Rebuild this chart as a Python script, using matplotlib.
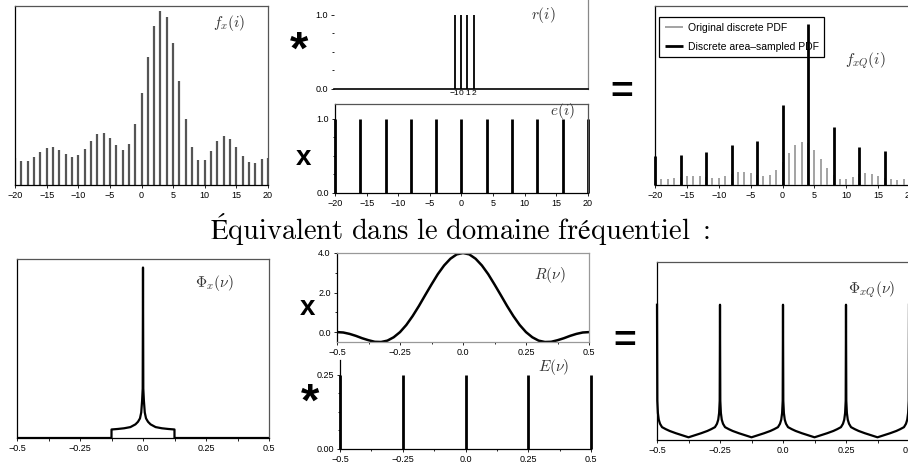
import matplotlib
matplotlib.use("Agg")
import matplotlib.pyplot as plt
from matplotlib.ticker import MultipleLocator

W, H = 908, 468

plt.rcParams['mathtext.fontset'] = 'cm'
plt.rcParams['font.family'] = ['Liberation Sans', 'DejaVu Sans']
plt.rcParams['font.size'] = 6.5
plt.rcParams['axes.linewidth'] = 0.9

# ---- spatial domain -------------------------------------------------------
i_vals = list(range(-20, 21))
f_x = [0.0080, 0.0072, 0.0072, 0.0084, 0.0099, 0.0111, 0.0114, 0.0105, 0.0093,
       0.0085, 0.0090, 0.0108, 0.0132, 0.0152, 0.0156, 0.0142, 0.0120, 0.0105,
       0.0123, 0.0182, 0.0277, 0.0385, 0.0478, 0.0522, 0.0504, 0.0426, 0.0314,
       0.0199, 0.0115, 0.0074, 0.0075, 0.0102, 0.0131, 0.0146, 0.0138, 0.0114,
       0.0088, 0.0069, 0.0066, 0.0078, 0.0080]

r_idx = [-1, 0, 1, 2]
r_val = [1.0, 1.0, 1.0, 1.0]

e_idx = [-20, -16, -12, -8, -4, 0, 4, 8, 12, 16, 20]
e_val = [1.0] * len(e_idx)

fxq_idx = [-20, -16, -12, -8, -4, 0, 4, 8, 12, 16, 20]
fxq_val = [0.0352, 0.0366, 0.0397, 0.0482, 0.0523, 0.0967, 0.1930, 0.0702,
           0.0454, 0.0409, 0.0350]

i_ticks = [-20, -15, -10, -5, 0, 5, 10, 15, 20]
i_labels = ['−20', '−15', '−10', '−5', '0', '5', '10', '15', '20']
r_labels = ['−1', '0', '1', '2']

# ---- frequency domain -----------------------------------------------------
nu_x = [-0.5, -0.125, -0.1249, -0.1, -0.075, -0.05, -0.03, -0.02, -0.012,
        -0.007, -0.0035, -0.0012, 0.0, 0.0012, 0.0035, 0.007, 0.012, 0.02,
        0.03, 0.05, 0.075, 0.1, 0.1249, 0.125, 0.5]
phi_x = [0.0, 0.0, 0.050, 0.053, 0.057, 0.064, 0.080, 0.095, 0.115, 0.150,
         0.220, 0.290, 1.0, 0.290, 0.220, 0.150, 0.115, 0.095, 0.080, 0.064,
         0.057, 0.053, 0.050, 0.0, 0.0]

nu_r = [-0.5, -0.475, -0.45, -0.425, -0.4, -0.375, -0.35, -0.325, -0.3, -0.275,
        -0.25, -0.225, -0.2, -0.175, -0.15, -0.125, -0.1, -0.075, -0.05, -0.025,
        0.0, 0.025, 0.05, 0.075, 0.1, 0.125, 0.15, 0.175, 0.2, 0.225,
        0.25, 0.275, 0.3, 0.325, 0.35, 0.375, 0.4, 0.425, 0.45, 0.475, 0.5]
R_nu = [0.00, -0.02, -0.09, -0.19, -0.31, -0.41, -0.49, -0.50, -0.43, -0.26,
        0.00, 0.36, 0.81, 1.32, 1.87, 2.41, 2.93, 3.37, 3.71, 3.93,
        4.00, 3.93, 3.71, 3.37, 2.93, 2.41, 1.87, 1.32, 0.81, 0.36,
        0.00, -0.26, -0.43, -0.50, -0.49, -0.41, -0.31, -0.19, -0.09, -0.02, 0.00]

nu_e = [-0.5, -0.25, 0.0, 0.25, 0.5]
E_nu = [0.25, 0.25, 0.25, 0.25, 0.25]

nu_q = [-0.5, -0.4988, -0.4965, -0.493, -0.488, -0.48, -0.465, -0.45, -0.425, -0.4,
        -0.375, -0.35, -0.325, -0.3, -0.285, -0.27, -0.262, -0.257, -0.2535, -0.2512,
        -0.25, -0.2488, -0.2465, -0.243, -0.238, -0.23, -0.215, -0.2, -0.175, -0.15,
        -0.125, -0.1, -0.075, -0.05, -0.035, -0.02, -0.012, -0.007, -0.0035, -0.0012,
        0.0, 0.0012, 0.0035, 0.007, 0.012, 0.02, 0.035, 0.05, 0.075, 0.1,
        0.125, 0.15, 0.175, 0.2, 0.215, 0.23, 0.238, 0.243, 0.2465, 0.2488,
        0.25, 0.2512, 0.2535, 0.257, 0.262, 0.27, 0.285, 0.3, 0.325, 0.35,
        0.375, 0.4, 0.425, 0.45, 0.465, 0.48, 0.488, 0.493, 0.4965, 0.4988,
        0.5]
phi_xq = [1.0, 0.29, 0.20, 0.15, 0.12, 0.095, 0.080, 0.067, 0.050, 0.035,
          0.020, 0.035, 0.050, 0.067, 0.080, 0.095, 0.12, 0.15, 0.20, 0.29,
          1.0, 0.29, 0.20, 0.15, 0.12, 0.095, 0.080, 0.067, 0.050, 0.035,
          0.020, 0.035, 0.050, 0.067, 0.080, 0.095, 0.12, 0.15, 0.20, 0.29,
          1.0, 0.29, 0.20, 0.15, 0.12, 0.095, 0.080, 0.067, 0.050, 0.035,
          0.020, 0.035, 0.050, 0.067, 0.080, 0.095, 0.12, 0.15, 0.20, 0.29,
          1.0, 0.29, 0.20, 0.15, 0.12, 0.095, 0.080, 0.067, 0.050, 0.035,
          0.020, 0.035, 0.050, 0.067, 0.080, 0.095, 0.12, 0.15, 0.20, 0.29,
          1.0]

nu_ticks = [-0.5, -0.25, 0.0, 0.25, 0.5]
nu_labels = ['−0.5', '−0.25', '0.0', '0.25', '0.5']

fig = plt.figure(figsize=(W / 100, H / 100), dpi=100)


def add_axes(left, top, right, bottom):
    # rectangle given in pixels from the top-left corner
    return fig.add_axes([left / W, 1 - bottom / H, (right - left) / W, (bottom - top) / H])


def frame(ax, top='#555555', right='#555555', left='black', bottom='black'):
    for side, c in (('top', top), ('right', right), ('left', left), ('bottom', bottom)):
        if c is None:
            ax.spines[side].set_visible(False)
        else:
            ax.spines[side].set_color(c)


def label(x, y, s, size=11):
    fig.text(x / W, 1 - y / H, s, fontsize=size, color='#333333', ha='center', va='center')


def operator(x, y, s, size):
    fig.text(x / W, 1 - y / H, s, fontsize=size, fontweight='bold', ha='center', va='center')


def nu_axis(ax):
    ax.set_xlim(-0.5, 0.5)
    ax.set_xticks(nu_ticks)
    ax.set_xticklabels(nu_labels)
    ax.xaxis.set_minor_locator(MultipleLocator(0.125))


for_ticks = dict(direction='out', length=2.5, width=0.6, pad=2)

# f_x(i)
ax = add_axes(15, 6, 268, 185)
ax.vlines(i_vals, 0, f_x, color='#555555', lw=1.6)
ax.set_xlim(-20, 20)
ax.set_ylim(0, 0.0538)
ax.set_yticks([])
ax.set_xticks(i_ticks)
ax.set_xticklabels(i_labels)
ax.tick_params(axis='x', **for_ticks)
frame(ax)
label(229, 23, r'$f_x(i)$')

# r(i)
ax = add_axes(334, 0, 588, 89)
ax.vlines(r_idx, 0, r_val, color='black', lw=1.3)
ax.set_xlim(-20, 20)
ax.set_ylim(0, 1.2)
ax.set_yticks([0, 1])
ax.set_yticklabels(['0.0', '1.0'])
ax.yaxis.set_minor_locator(MultipleLocator(0.25))
ax.set_xticks(r_idx)
ax.set_xticklabels(r_labels, fontsize=6)
ax.tick_params(axis='x', length=0, pad=1)
ax.tick_params(axis='y', which='both', direction='out', length=2.5, width=0.6, pad=2)
ax.tick_params(axis='y', which='minor', length=1.5)
frame(ax, top=None, right='#888888', left=None)
ax.spines['bottom'].set_linewidth(1.2)
label(543, 15, r'$r(i)$')

# e(i)
ax = add_axes(335, 104, 588, 193)
ax.vlines(e_idx, 0, e_val, color='black', lw=2, clip_on=False)
ax.set_xlim(-20, 20)
ax.set_ylim(0, 1.2)
ax.set_yticks([0, 1])
ax.set_yticklabels(['0.0', '1.0'])
ax.yaxis.set_minor_locator(MultipleLocator(0.25))
ax.set_xticks(i_ticks)
ax.set_xticklabels(i_labels)
ax.tick_params(axis='both', which='both', direction='out', length=2.5, width=0.6, pad=2)
ax.tick_params(axis='y', which='minor', length=1.5)
frame(ax)
label(562, 111, r'$e(i)$')

# f_xQ(i)
ax = add_axes(655, 6, 910, 185)
ax.vlines(i_vals, 0, f_x, color='#8a8a8a', lw=1.1, label='Original discrete PDF', zorder=3)
ax.vlines(fxq_idx, 0, fxq_val, color='black', lw=2, label='Discrete area–sampled PDF',
          zorder=3, clip_on=False)
ax.set_xlim(-20, 20)
ax.set_ylim(0, 0.2152)
ax.set_yticks([])
ax.set_xticks(i_ticks)
ax.set_xticklabels(i_labels)
ax.tick_params(axis='x', **for_ticks)
frame(ax)
leg = ax.legend(loc='upper left', bbox_to_anchor=(0.016, 0.939), borderaxespad=0,
                fontsize=7.5, fancybox=False, edgecolor='black', framealpha=1,
                handlelength=1.7, handletextpad=0.5, borderpad=0.55, labelspacing=0.85)
leg.get_frame().set_linewidth(0.9)
leg.set_zorder(1)
label(865, 61, r'$f_{xQ}(i)$')

# Phi_x(nu)
ax = add_axes(17, 259, 269, 438)
ax.plot(nu_x, phi_x, color='black', lw=1.6)
nu_axis(ax)
ax.set_ylim(0, 1.05)
ax.set_yticks([])
ax.tick_params(axis='x', which='both', **for_ticks)
ax.tick_params(axis='x', which='minor', length=2)
frame(ax)
label(214, 283, r'$\Phi_x(\nu)$')

# R(nu)
ax = add_axes(337, 253, 589, 342)
ax.plot(nu_r, R_nu, color='black', lw=1.8)
nu_axis(ax)
ax.set_ylim(-0.5, 4.0)
ax.set_yticks([0, 2, 4])
ax.set_yticklabels(['0.0', '2.0', '4.0'])
ax.yaxis.set_minor_locator(MultipleLocator(1.0))
ax.tick_params(axis='both', which='both', direction='out', length=2.5, width=0.6, pad=2)
ax.tick_params(which='minor', length=1.5)
frame(ax, top='#999999', right='#999999', bottom='#999999')
label(550, 275, r'$R(\nu)$')

# E(nu)
ax = add_axes(340, 360, 591, 449)
ax.vlines(nu_e, 0, E_nu, color='black', lw=2, clip_on=False)
nu_axis(ax)
ax.set_ylim(0, 0.30)
ax.set_yticks([0, 0.25])
ax.set_yticklabels(['0.00', '0.25'])
ax.yaxis.set_minor_locator(MultipleLocator(0.0625))
ax.tick_params(axis='both', which='both', direction='out', length=2.5, width=0.6, pad=2)
ax.tick_params(which='minor', length=1.5)
frame(ax, top=None, right=None)
label(554, 367, r'$E(\nu)$')

# Phi_xQ(nu)
ax = add_axes(657, 262, 909, 440)
ax.plot(nu_q, phi_xq, color='black', lw=1.6, clip_on=False)
nu_axis(ax)
ax.set_ylim(0, 1.316)
ax.set_yticks([])
ax.tick_params(axis='x', which='both', **for_ticks)
ax.tick_params(axis='x', which='minor', length=2)
frame(ax)
label(872, 290, r'$\Phi_{xQ}(\nu)$')

# operators between the panels
operator(299, 52, '*', 34)
operator(303, 158, 'x', 20)
operator(622, 93, '=', 28)
operator(308, 308, 'x', 20)
operator(310, 404, '*', 34)
operator(625, 342, '=', 28)

fig.text(460 / W, 1 - 239 / H,
         r'$\mathrm{Équivalent\ dans\ le\ domaine\ fréquentiel\ :}$',
         fontsize=20.5, ha='center', va='baseline')

fig.savefig('out.png', dpi=100)
